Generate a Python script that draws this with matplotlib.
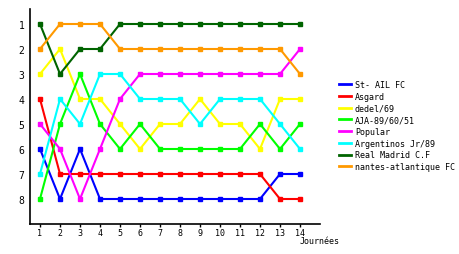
import numpy as np
import matplotlib.pyplot as plt

journees = np.arange(1, 15)
equipes = ['St- AIL FC', 'Asgard', 'dedel/69', 'AJA-89/60/51', 'Popular',
           'Argentinos Jr/89', 'Real Madrid C.F', 'nantes-atlantique FC']
couleurs = ['#0000ff', '#ff0000', '#ffff00', '#00ff00', '#ff00ff',
            '#00ffff', '#006400', '#ff9900']

st_ail = [6, 8, 6, 8, 8, 8, 8, 8, 8, 8, 8, 8, 7, 7]
asgard = [4, 7, 7, 7, 7, 7, 7, 7, 7, 7, 7, 7, 8, 8]
dedel = [3, 2, 4, 4, 5, 6, 5, 5, 4, 5, 5, 6, 4, 4]
aja = [8, 5, 3, 5, 6, 5, 6, 6, 6, 6, 6, 5, 6, 5]
popular = [5, 6, 8, 6, 4, 3, 3, 3, 3, 3, 3, 3, 3, 2]
argentinos = [7, 4, 5, 3, 3, 4, 4, 4, 5, 4, 4, 4, 5, 6]
real = [1, 3, 2, 2, 1, 1, 1, 1, 1, 1, 1, 1, 1, 1]
nantes = [2, 1, 1, 1, 2, 2, 2, 2, 2, 2, 2, 2, 2, 3]
classements = [st_ail, asgard, dedel, aja, popular, argentinos, real, nantes]

plt.rcParams['font.family'] = 'DejaVu Sans Mono'
fig = plt.figure(figsize=(4.6, 2.55), dpi=100)
ax = fig.add_axes([30/460, 30/255, 290/460, 215/255])

for nom, c, rangs in zip(equipes, couleurs, classements):
    ax.plot(journees, rangs, color=c, lw=1.5, marker='s', ms=3,
            mec=c, mfc=c, label=nom)

ax.set_xlim(0.5, 15)
ax.set_ylim(9, 0.4)
ax.set_xticks(journees)
ax.set_yticks(range(1, 9))
ax.tick_params(axis='x', length=2, width=1, labelsize=6, pad=1)
ax.tick_params(axis='y', length=0, labelsize=7, pad=4)
for s in ['top', 'right']:
    ax.spines[s].set_visible(False)
ax.spines['left'].set_linewidth(1.2)
ax.spines['bottom'].set_linewidth(1.2)

fig.text(300/460, 1 - 242/255, 'Journées', fontsize=6, va='center')

leg = fig.legend(loc='upper left', bbox_to_anchor=(339/460, 1 - 81/255),
                 frameon=False, fontsize=6, handlelength=1.4,
                 handletextpad=0.5, labelspacing=0.33, borderpad=0,
                 borderaxespad=0)
for h in leg.get_lines():
    h.set_marker('')
    h.set_linewidth(2)

fig.savefig('out.png', dpi=100)
